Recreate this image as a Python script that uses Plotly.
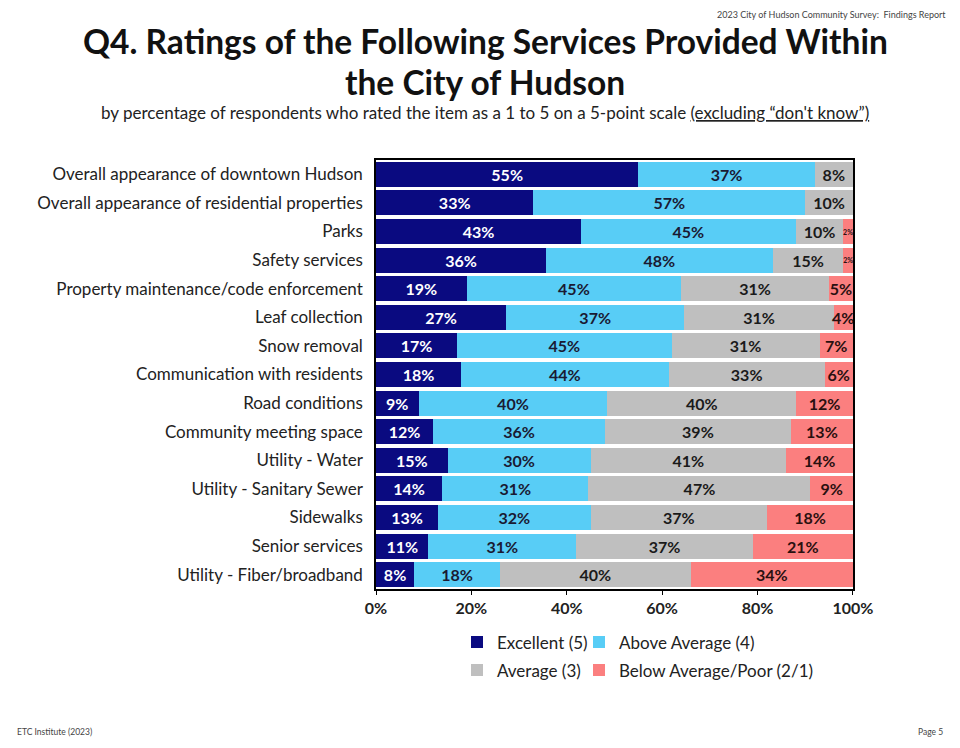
import plotly.graph_objects as go

categories = [
    "Overall appearance of downtown Hudson",
    "Overall appearance of residential properties",
    "Parks",
    "Safety services",
    "Property maintenance/code enforcement",
    "Leaf collection",
    "Snow removal",
    "Communication with residents",
    "Road conditions",
    "Community meeting space",
    "Utility - Water",
    "Utility - Sanitary Sewer",
    "Sidewalks",
    "Senior services",
    "Utility - Fiber/broadband",
]
excellent = [55, 33, 43, 36, 19, 27, 17, 18, 9, 12, 15, 14, 13, 11, 8]
above_avg = [37, 57, 45, 48, 45, 37, 45, 44, 40, 36, 30, 31, 32, 31, 18]
average = [8, 10, 10, 15, 31, 31, 31, 33, 40, 39, 41, 47, 37, 37, 40]
below_poor = [0, 0, 2, 2, 5, 4, 7, 6, 12, 13, 14, 9, 18, 21, 34]
series_names = ["Excellent (5)", "Above Average (4)", "Average (3)", "Below Average/Poor (2/1)"]
x_ticks = [0, 20, 40, 60, 80, 100]

colors = ["#0a0a80", "#58cdf6", "#bfbfbf", "#fb7f7f"]
text_colors = ["#ffffff", "#1a1a33", "#1a1a1a", "#2a1010"]
FONT = "Lato, Calibri, Arial, sans-serif"

# page offset (browser body margin) and plot area in screenshot pixels
OFF = 8
W, H = 960, 748
L, R, T, B = 376, 853, 160, 588.6


def px(x):
    return (x - L) / (R - L)


def py(y):
    return (B - y) / (B - T)


legend_ids = ["legend", "legend2", "legend3", "legend4"]
legend_pos = [(457, 642), (579, 642), (457, 670), (579, 670)]

fig = go.Figure()
all_series = [excellent, above_avg, average, below_poor]
for i, (name, vals) in enumerate(zip(series_names, all_series)):
    texts = []
    sizes = []
    for v in vals:
        if i == 3 and v <= 2:
            texts.append(f"{v}%" if v > 0 else "")
            sizes.append(7)
        else:
            texts.append(f"{v}%")
            sizes.append(16)
    fig.add_trace(go.Bar(
        y=categories,
        x=vals,
        name=name,
        orientation="h",
        marker=dict(color=colors[i], line=dict(width=0)),
        text=texts,
        textposition="inside",
        insidetextanchor="middle",
        textangle=0,
        constraintext="none",
        cliponaxis=False,
        textfont=dict(family=FONT, size=sizes, color=text_colors[i], weight="bold"),
        legend=legend_ids[i],
        hoverinfo="skip",
    ))

legend_layout = {}
for lid, (lx, ly) in zip(legend_ids, legend_pos):
    legend_layout[lid] = dict(
        orientation="h", x=px(lx), xanchor="left", y=py(ly), yanchor="middle",
        itemwidth=30,
        font=dict(family=FONT, size=17, color="#222222"),
        bgcolor="rgba(0,0,0,0)",
    )

fig.update_layout(
    barmode="stack",
    barnorm="percent",
    bargap=0.12,
    width=W - OFF,
    height=H - OFF,
    margin=dict(l=L - OFF, r=W - R, t=T - OFF, b=H - B),
    plot_bgcolor="white",
    paper_bgcolor="white",
    font=dict(family=FONT, color="#222222"),
    showlegend=True,
    **legend_layout,
)

fig.update_xaxes(
    range=[0, 100.02],
    tickvals=x_ticks,
    ticktext=[f"{t}%" for t in x_ticks],
    tickfont=dict(family=FONT, size=16, color="#222222", weight="bold"),
    showgrid=True, gridcolor="white", gridwidth=1,
    zeroline=False,
    showline=True, linecolor="black", linewidth=1.5, mirror=True,
    ticks="outside", ticklen=4, tickcolor="black",
    fixedrange=True,
)
fig.update_yaxes(
    autorange="reversed",
    tickfont=dict(family=FONT, size=17, color="#222222"),
    showline=True, linecolor="black", linewidth=1.5, mirror=True,
    ticklabelstandoff=8,
    showgrid=False,
    fixedrange=True,
)

annotations = [
    dict(text="<b>Q4. Ratings of the Following Services Provided Within</b>",
         x=px(485), y=py(41), font=dict(size=33.5, color="#111111")),
    dict(text="<b>the City of Hudson</b>",
         x=px(485), y=py(82.5), font=dict(size=33.5, color="#111111")),
    dict(text="by percentage of respondents who rated the item as a 1 to 5 on a 5-point scale "
              "<span style=\"text-decoration:underline\">(excluding “don't know”)</span>",
         x=px(485), y=py(113), font=dict(size=17, color="#222222")),
    dict(text="2023 City of Hudson Community Survey:  Findings Report",
         x=px(948), y=py(15), xanchor="right", font=dict(size=9, color="#444444")),
    dict(text="ETC Institute (2023)",
         x=px(15), y=py(731), xanchor="left", font=dict(size=8.5, color="#444444")),
    dict(text="Page 5",
         x=px(945), y=py(731), xanchor="right", font=dict(size=8.5, color="#444444")),
]
for a in annotations:
    a.setdefault("xanchor", "center")
    fig.add_annotation(
        xref="paper", yref="paper", showarrow=False, yanchor="middle",
        font_family=FONT, **a,
    )

fig.write_html("out.html")
